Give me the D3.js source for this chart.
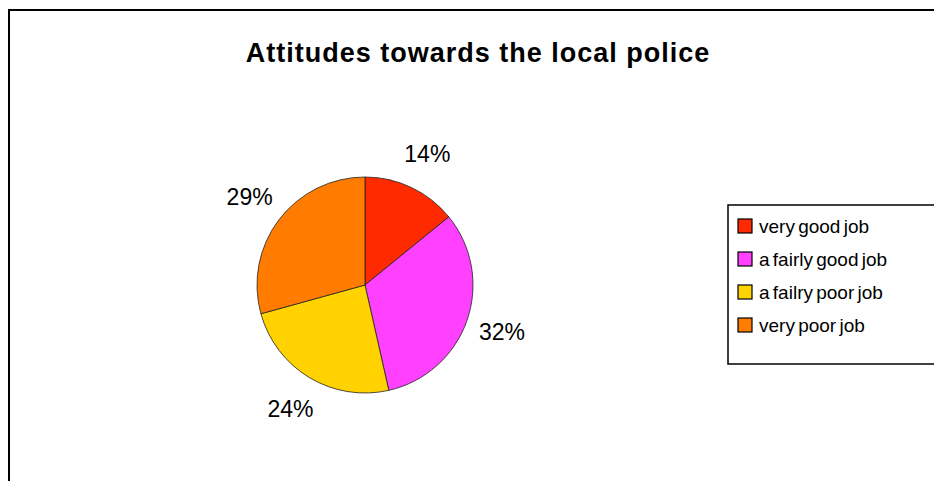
<!DOCTYPE html>
<html>
<head>
<meta charset="utf-8">
<script src="https://cdn.jsdelivr.net/npm/d3@7/dist/d3.min.js"></script>
<style>
  body { margin: 0; background: #fff; }
  svg { display: block; font-family: "Liberation Sans", Arial, sans-serif; }
</style>
</head>
<body>
<svg id="chart" width="934" height="481"></svg>
<script>
const categories = ['very good job', 'a fairly good job', 'a failry poor job', 'very poor job'];
const values = [14, 32, 24, 29];
const labels = ['14%', '32%', '24%', '29%'];
const colors = ['#FF2A00', '#FF40FF', '#FFD200', '#FF7C00'];
const title = 'Attitudes towards the local police';

function translate(x, y) {
    return `translate(${x}, ${y})`;
}

const svg = d3.select('#chart');
const center = { x: 365, y: 285 };
const radius = 108;

// outer frame, running off the right and bottom edges
svg.append('rect')
    .attr('x', 9).attr('y', 10)
    .attr('width', 960).attr('height', 500)
    .style('fill', 'none').style('stroke', '#000').style('stroke-width', 2);

svg.append('text')
    .attr('transform', translate(478, 62))
    .style('text-anchor', 'middle')
    .style('font-size', '27px')
    .style('font-weight', 'bold')
    .style('letter-spacing', '1px')
    .text(title);

const pie = d3.pie().sort(null).value(d => d);
const arcs = pie(values);
const arc = d3.arc().innerRadius(0).outerRadius(radius);
const labelArc = d3.arc().innerRadius(145).outerRadius(145);

const view = svg.append('g').attr('transform', translate(center.x, center.y));

view.selectAll('path').data(arcs).enter().append('path')
    .attr('d', arc)
    .style('fill', (d, i) => colors[i])
    .style('stroke', '#222')
    .style('stroke-width', 0.8);

view.selectAll('text').data(arcs).enter().append('text')
    .attr('transform', d => translate(...labelArc.centroid(d)))
    .attr('dy', '0.35em')
    .style('text-anchor', 'middle')
    .style('font-size', '23px')
    .text((d, i) => labels[i]);

// legend
const legend = svg.append('g').attr('transform', translate(728, 205));
legend.append('rect')
    .attr('width', 300).attr('height', 159)
    .style('fill', '#fff').style('stroke', '#000').style('stroke-width', 1.5);

const items = legend.selectAll('g.item').data(categories).enter().append('g')
    .attr('class', 'item')
    .attr('transform', (d, i) => translate(0, 21 + 33 * i));
items.append('rect')
    .attr('x', 10).attr('y', -7)
    .attr('width', 14).attr('height', 14)
    .style('fill', (d, i) => colors[i])
    .style('stroke', '#000').style('stroke-width', 1.2);
items.append('text')
    .attr('x', 31).attr('dy', '0.35em')
    .style('font-size', '19px')
    .style('word-spacing', '-2px')
    .text(d => d);
</script>
</body>
</html>
